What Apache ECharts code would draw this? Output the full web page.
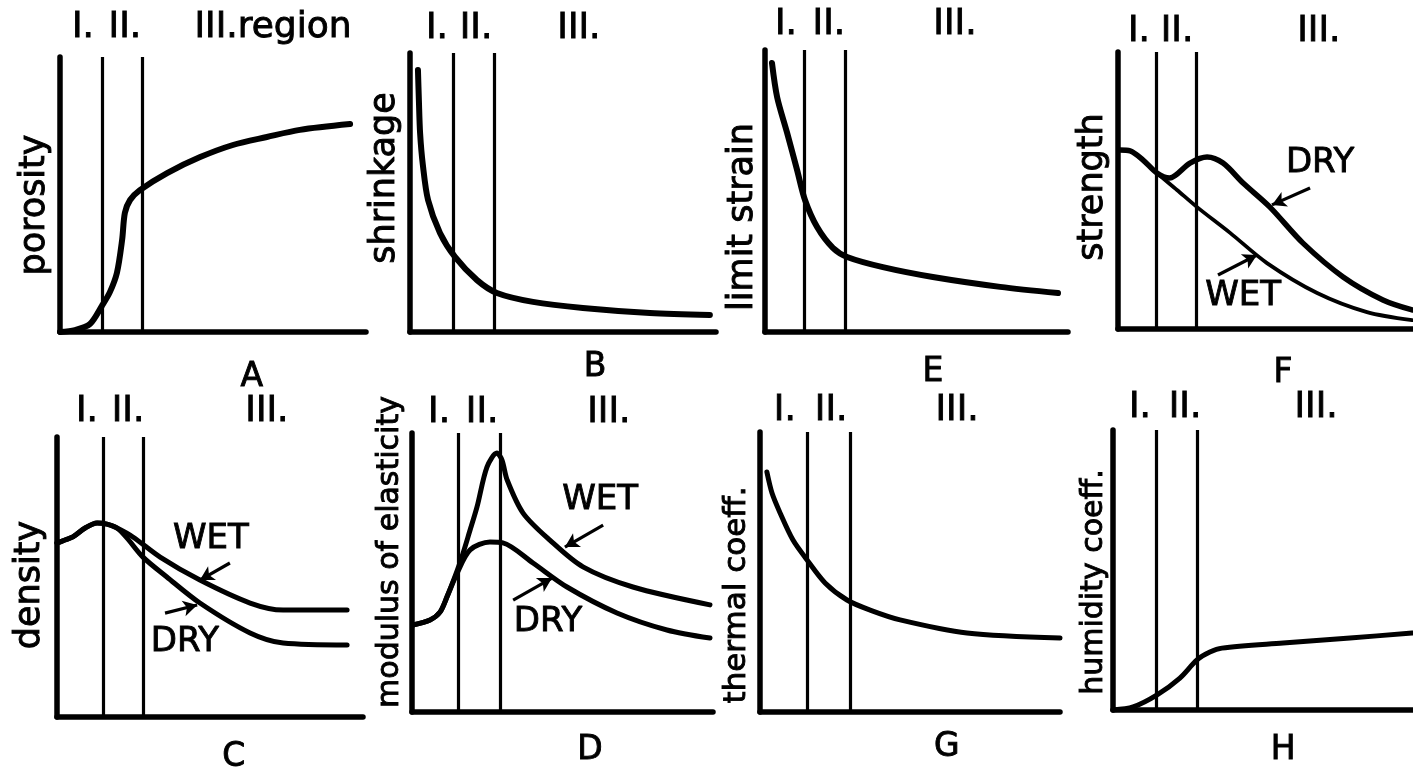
<!DOCTYPE html>
<html><head><meta charset="utf-8">
<script src="https://cdn.jsdelivr.net/npm/echarts@6/dist/echarts.min.js"></script>
<style>html,body{margin:0;padding:0;background:#fff}#c{width:1413px;height:773px}</style>
</head><body><div id="c"></div>
<script>
// ---------------- data (x and y on a 0-100 relative scale) ----------------
const regionLabels = ['I.', 'II.', 'III.'];
const regionLabelsA = ['I.', 'II.', 'III.region'];
const panelLetters = ['A', 'B', 'E', 'F', 'C', 'D', 'G', 'H'];
const yAxisNames = ['porosity', 'shrinkage', 'limit strain', 'strength', 'density', 'modulus of elasticity', 'thermal coeff.', 'humidity coeff.'];
const seriesNames = ['WET', 'DRY'];

// region boundaries I|II and II|III
const boundsA = [13.7, 26.8];
const boundsB = [14.1, 27.5];
const boundsE = [12.9, 26.4];
const boundsF = [12.9, 26.4];
const boundsC = [15.0, 28.1];
const boundsD = [15.3, 29.2];
const boundsG = [15.7, 30.0];
const boundsH = [14.3, 28.0];

const porosity = [[0,0],[4.9,0.7],[9.8,2.9],[13.7,9.5],[16.3,14.5],[18.6,21.5],[20.3,33.5],[21.2,43.3],[22.9,48],[26.1,51.6],[35,57.8],[45.8,63.6],[56.5,68],[67.6,70.9],[78.4,73.5],[94.8,75.6]];
const shrinkage = [[2.6,93.9],[2.9,83.2],[3.3,71.3],[4.2,59.9],[5.9,47.3],[9.8,35.5],[14.7,26.9],[21.9,18.6],[28.4,14],[40.2,10.8],[56.5,8.6],[78.4,6.8],[98,6.1]];
const limitStrain = [[2.3,95.4],[4,83.3],[7.3,70.6],[10.6,57.4],[13.2,46.8],[17.2,37.2],[22.4,29.8],[27.1,26.6],[38.9,23],[55.4,19.5],[77.6,16],[96.7,13.8]];
const strengthDry = [[0.7,64.6],[4.1,64.3],[8.5,61],[13.2,56.3],[17.5,54.5],[24.4,59.9],[30.2,62.1],[35.6,59.9],[42.4,52.7],[51.5,44],[62.7,31],[76.3,18.8],[89.8,10.5],[99.7,6.9]];
const strengthWet = [[0.7,64.6],[4.1,64.3],[8.5,61],[13.2,56.3],[20,50.2],[26.8,44],[38,34.7],[50.5,23.8],[67.5,13],[84.4,6.1],[99.7,3.2]];
const densityWet = [[0,62.1],[2.6,63.2],[5.2,64.3],[9.2,67.5],[13.1,69.3],[16.3,68.9],[19.6,67.5],[24.8,64.3],[33.7,57.1],[46.7,48.9],[63.1,40.7],[73.9,38.2],[94.8,38.2]];
const densityDry = [[0,62.1],[2.6,63.2],[5.2,64.3],[9.2,67.5],[13.1,69.3],[16.3,68.9],[19.6,67.5],[22.9,63.9],[28.1,57.1],[35.9,50],[46.7,40.7],[63.1,30],[73.9,26.4],[94.8,25.7]];
const modulusWet = [[0.3,31.2],[6,33],[9.3,35.8],[11.6,41.2],[15.9,53.4],[19.3,65.2],[21.6,73.5],[24.9,87.8],[28.2,92.8],[29.9,90.3],[31.6,83.2],[36.9,71.3],[45.8,61.6],[56.8,52],[73.4,44.8],[99,38.4]];
const modulusDry = [[0.3,31.2],[6,33],[9.3,35.8],[11.6,41.2],[15,49.8],[19.3,58.1],[25.9,60.9],[30.2,60.6],[40.2,53.4],[51.5,44.8],[68.1,35.5],[84.7,29.4],[99,26.5]];
const thermalCoeff = [[2.3,85.7],[4,78.2],[6.7,71.1],[11,61.4],[15.7,54.3],[21.7,46.1],[29,40],[36.7,36.4],[46.7,32.9],[69,28.2],[100,26.4]];
const humidityCoeff = [[0,0],[6.7,1.1],[14.7,5.4],[22.3,11.4],[28,17.9],[32.3,20.7],[36.3,22.1],[56.7,23.9],[79,25.7],[99.7,27.5]];

// ---------------- layout ----------------
const FONT = 'DejaVu Sans';
const panels = [
  { box:[60,57,306,275], bounds:boundsA, regions:regionLabelsA, regionX:[7.5,21.2,69.6], regionDy:-29, letterX:62.7, letterDy:45,
    curves:[{d:porosity,w:6}], nameXY:[35,205], nameSize:35, notes:[], arrows:[] },
  { box:[410,53,306,279], bounds:boundsB, regions:regionLabels, regionX:[8.8,21.6,55.2], regionDy:-24, letterX:60.5, letterDy:35,
    curves:[{d:shrinkage,w:6}], nameXY:[385,178], nameSize:35, notes:[], arrows:[] },
  { box:[765,50,303,282], bounds:boundsE, regions:regionLabels, regionX:[6.9,21.1,62.7], regionDy:-25, letterX:55.4, letterDy:40,
    curves:[{d:limitStrain,w:6}], nameXY:[743,217], nameSize:35, notes:[], arrows:[] },
  { box:[1118,52,295,277], bounds:boundsF, regions:regionLabels, regionX:[7.1,20,68.1], regionDy:-20, letterX:55.9, letterDy:44,
    curves:[{d:strengthDry,w:5.5},{d:strengthWet,w:3.8}], nameXY:[1093,187], nameSize:35,
    notes:[[seriesNames[1],68.5,59.9],[seriesNames[0],42.4,11.9]], arrows:[[65.1,50.9,52.2,44.8],[33.9,19.5,47.1,26.7]] },
  { box:[57,437,306,280], bounds:boundsC, regions:regionLabels, regionX:[9.8,23.2,68.6], regionDy:-25, letterX:57.8, letterDy:40,
    curves:[{d:densityWet,w:5},{d:densityDry,w:5}], nameXY:[30,585], nameSize:35,
    notes:[[seriesNames[0],50.3,63.6],[seriesNames[1],41.8,26.8]], arrows:[[56.5,55,46.7,48.9],[35.3,37.1,45.8,40]] },
  { box:[412,433,301,279], bounds:boundsD, regions:regionLabels, regionX:[9,23.3,65.4], regionDy:-20, letterX:59.1, letterDy:38,
    curves:[{d:modulusWet,w:5},{d:modulusDry,w:5}], nameXY:[390,552], nameSize:30,
    notes:[[seriesNames[0],62.5,76],[seriesNames[1],45.2,32.3]], arrows:[[63.5,67,50.8,59.1],[33.6,40.1,46.5,48]] },
  { box:[760,432,300,280], bounds:boundsG, regions:regionLabels, regionX:[8.3,23.7,65.7], regionDy:-21, letterX:62.3, letterDy:35,
    curves:[{d:thermalCoeff,w:5}], nameXY:[737,595], nameSize:31, notes:[], arrows:[] },
  { box:[1113,430,300,280], bounds:boundsH, regions:regionLabels, regionX:[9,24,67.7], regionDy:-22, letterX:56.7, letterDy:40,
    curves:[{d:humidityCoeff,w:5}], nameXY:[1094,582], nameSize:30, notes:[], arrows:[] }
];

const grid = [], xAxis = [], yAxis = [], series = [], graphic = [];
const txt = (size, dy) => ({ offset:[0, dy], fontSize:size, color:'#000', opacity:1, textBorderColor:'#000', textBorderWidth:0.9, fontFamily:FONT });
panels.forEach((p, i) => {
  grid.push({ left:p.box[0], top:p.box[1], width:p.box[2], height:p.box[3], outerBoundsMode:'none', containLabel:false });
  const axisCommon = { type:'value', min:0, max:100, gridIndex:i,
    axisLine:{ show:true, onZero:false, lineStyle:{ color:'#000', width:5.5, cap:'round' } },
    axisTick:{ show:false }, axisLabel:{ show:false }, splitLine:{ show:false } };
  xAxis.push(Object.assign({}, axisCommon));
  yAxis.push(Object.assign({}, axisCommon));
  p.curves.forEach(c => {
    series.push({ type:'line', xAxisIndex:i, yAxisIndex:i, data:c.d, smooth:0.3,
      symbol:'none', silent:true, lineStyle:{ color:'#000', width:c.w, cap:'round', join:'round' } });
  });
  const labelData = p.regions.map((t, k) => ({ name:t, value:[p.regionX[k], 100], label:txt(36, p.regionDy) }));
  labelData.push({ name:panelLetters[i], value:[p.letterX, 0], label:txt(33, p.letterDy) });
  p.notes.forEach(n => labelData.push({ name:n[0], value:[n[1], n[2]], label:txt(34, 0) }));
  const ml = p.bounds.map(b => ({ xAxis:b }));
  p.arrows.forEach(a => ml.push([{ coord:[a[0], a[1]], symbol:'none' }, { coord:[a[2], a[3]], symbol:'arrow', symbolSize:[12,14] }]));
  series.push({ type:'scatter', xAxisIndex:i, yAxisIndex:i, data:labelData, symbolSize:1, silent:true,
    itemStyle:{ color:'rgba(0,0,0,0)' },
    label:{ show:true, position:'inside', formatter:'{b}', color:'#000', fontFamily:FONT },
    markLine:{ silent:true, symbol:['none','none'], label:{ show:false }, animation:false,
      lineStyle:{ color:'#000', width:3.2, type:'solid', opacity:1 }, emphasis:{ disabled:true }, data:ml } });
  graphic.push({ type:'text', x:p.nameXY[0], y:p.nameXY[1], rotation:Math.PI/2,
    style:{ text:yAxisNames[i], fill:'#000', stroke:'#000', lineWidth:0.9, font:p.nameSize + 'px "' + FONT + '"', align:'center', verticalAlign:'middle' } });
});

const chart = echarts.init(document.getElementById('c'), null, { renderer:'canvas' });
chart.setOption({ animation:false, backgroundColor:'#fff', grid, xAxis, yAxis, series, graphic });
</script>
</body></html>
